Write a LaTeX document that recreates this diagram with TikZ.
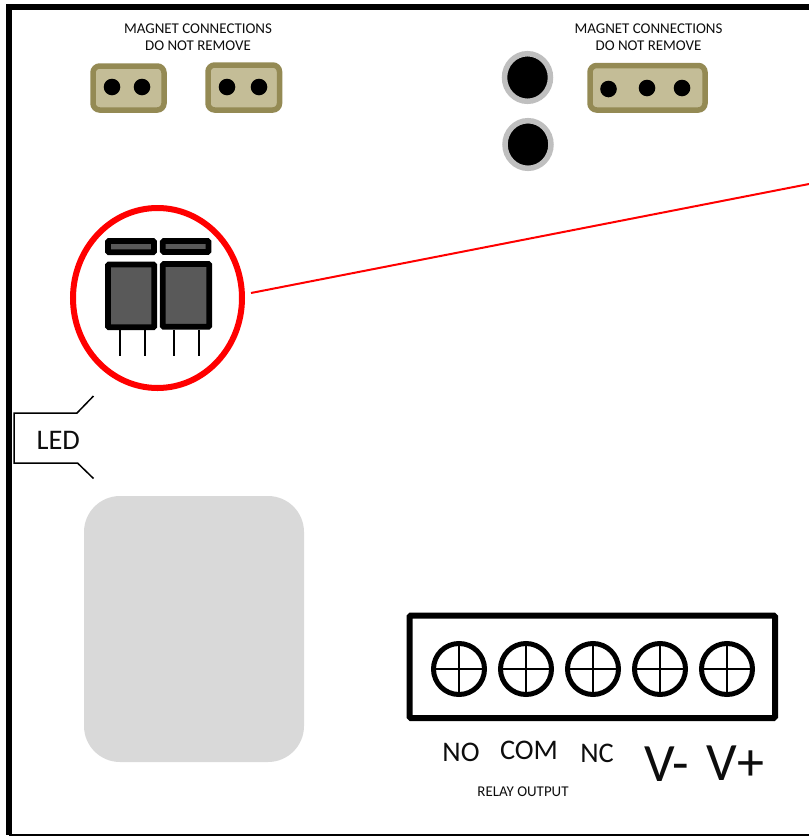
\documentclass[tikz,border=0pt]{standalone}
\usepackage{fontspec}
\setmainfont{Carlito}
\definecolor{tanfill}{HTML}{C4BD97}
\definecolor{tanedge}{HTML}{948A54}
\definecolor{ringgrey}{HTML}{BFBFBF}
\definecolor{darkgrey}{HTML}{595959}
\definecolor{padgrey}{HTML}{D9D9D9}
\definecolor{labelink}{HTML}{0D0D0D}
\tikzset{
  x=0.75pt,y=-0.75pt,
  px/.style={line width=#1*0.75pt},
  connbox/.style={draw=tanedge,fill=tanfill,px=5.5,rounded corners=5pt},
  hole/.style={fill=black},
  ring/.style={draw=ringgrey,fill=black,px=5.5},
  relaybox/.style={draw=black,fill=darkgrey,px=5.8,rounded corners=0.8pt},
  lead/.style={draw=black,px=1.9},
  screwring/.style={draw=black,fill=white,px=5},
  hair/.style={draw=black,px=1.6},
  small/.style={text=labelink,font=\fontsize{11.2}{13}\selectfont,align=center,inner sep=0pt},
  mid/.style={text=labelink,font=\fontsize{21.3}{25}\selectfont,inner sep=0pt},
  big/.style={text=labelink,font=\fontsize{40.5}{46}\selectfont,inner sep=0pt},
}
\newcommand{\screw}[2]{%
  \draw[screwring] (#1,#2) circle[radius=25.5];
  \draw[hair] (#1-24,#2) -- (#1+24,#2);
  \draw[hair] (#1,#2-24) -- (#1,#2+24);
}
\begin{document}
\begin{tikzpicture}
\useasboundingbox (0,0) rectangle (809,836);
% board outline
\coordinate (frameTR) at (809,7);
\coordinate (frameTL) at (9,7);
\coordinate (frameBL) at (9,835);
\coordinate (frameBR) at (809,835);
\draw[black,px=6,line join=miter] (frameTR) -- (frameTL) -- (frameBL);
\draw[black,px=1.5] (frameBL) -- (frameBR);
% magnet connectors
\node[small] (magA) at (198,37.5) {MAGNET CONNECTIONS\\DO NOT REMOVE};
\node[small] (magB) at (648.5,37.5) {MAGNET CONNECTIONS\\DO NOT REMOVE};
\draw[connbox] (93,66) rectangle (164,110);
\fill[hole] (112,87) circle[radius=8.3];
\fill[hole] (142,87) circle[radius=8.3];
\draw[connbox] (208,65) rectangle (279.5,110);
\fill[hole] (227,87) circle[radius=8.3];
\fill[hole] (259,87) circle[radius=8.3];
\draw[connbox] (590,65.5) rectangle (705,110);
\fill[hole] (608.5,89) circle[radius=8.3];
\fill[hole] (647,88) circle[radius=8.3];
\fill[hole] (682,88) circle[radius=8.3];
% mounting holes
\draw[ring] (527.5,77.5) ellipse[x radius=23,y radius=23.8];
\draw[ring] (528,144.5) ellipse[x radius=23,y radius=23.8];
% relay detail
\draw[relaybox] (108,241) rectangle (154,252.3);
\draw[relaybox] (162.8,241) rectangle (208.5,252);
\draw[relaybox] (108,264.5) rectangle (154.3,327.3);
\draw[relaybox] (162.8,264) rectangle (209.3,326.8);
\draw[lead] (119.7,330) -- (119.7,356);
\draw[lead] (144.7,330) -- (144.7,356);
\draw[lead] (174.3,330) -- (174.3,356);
\draw[lead] (199.3,330) -- (199.3,356);
% red callout
\draw[red,px=6] (157.5,298) ellipse[x radius=84.5,y radius=90];
\coordinate (calloutStart) at (251,293);
\coordinate (calloutEnd) at (809,184);
\draw[red,px=2] (calloutStart) -- (calloutEnd);
% LED
\coordinate (ledA) at (93.5,396);
\coordinate (ledB) at (77,413);
\coordinate (ledC) at (14,413);
\coordinate (ledD) at (14,463);
\coordinate (ledE) at (77.5,463);
\coordinate (ledF) at (93.5,478.5);
\draw[black,px=1.5] (ledA) -- (ledB) -- (ledC) -- (ledD) -- (ledE) -- (ledF);
\node[mid] (led) at (58.3,440.5) {LED};
% grey pad
\fill[padgrey,rounded corners=27pt] (84,496) rectangle (304,762);
% terminal block
\draw[black,px=6,rounded corners=1pt] (409.5,615.5) rectangle (775,718);
\screw{459}{669}
\screw{526}{669}
\screw{593}{669}
\screw{660}{669}
\screw{727}{669}
% labels
\node[mid] (no) at (461,752) {NO};
\node[mid] (com) at (529,750) {COM};
\node[mid] (nc) at (597,753) {NC};
\node[big] (vm) at (666.5,764) {V-};
\node[big] (vp) at (735.5,763) {V+};
\node[small] (relay) at (523,792) {RELAY OUTPUT};
\end{tikzpicture}
\end{document}
